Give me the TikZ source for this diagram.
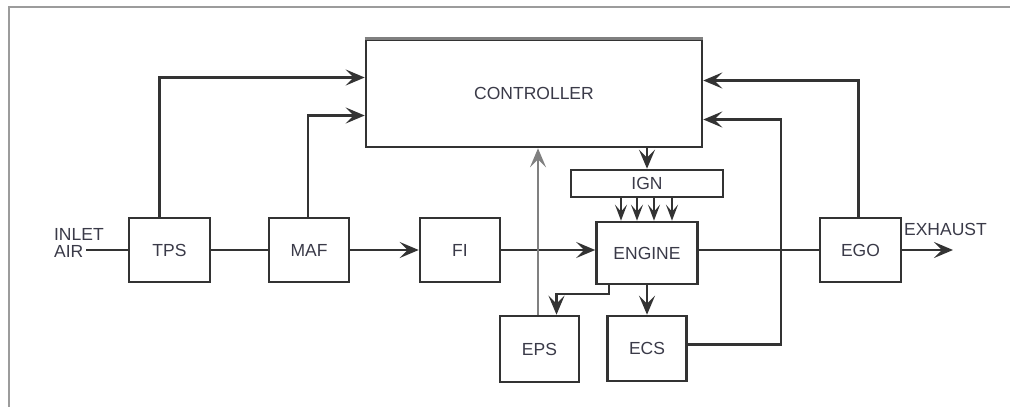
\documentclass[tikz,border=0pt]{standalone}
\usepackage{fontspec}
\setmainfont{Liberation Sans}
\usetikzlibrary{arrows.meta}
\definecolor{linegray}{HTML}{333333}
\definecolor{framegray}{HTML}{9C9C9C}
\definecolor{textgray}{HTML}{3A3A48}
\tikzset{>={Stealth[length=19pt,width=16pt,inset=8pt]}}
\tikzset{blk/.style={draw=linegray, line width=2.6pt, inner sep=0pt, text=textgray, font=\fontsize{17.5}{17.5}\selectfont}}
\tikzset{lbl/.style={inner sep=0pt, text=textgray, font=\fontsize{17.5}{17.5}\selectfont}}

\begin{document}
\begin{tikzpicture}[x=1pt, y=-1pt, linegray, line width=2.2pt]
	\useasboundingbox (0,0) rectangle (1010,407);
	\draw[framegray, line width=2pt] (1010,7) -- (9,7) -- (9,407);
	\node[blk, minimum width=336, minimum height=107] (ctrl) at (534,93.5) {CONTROLLER};
	\draw[gray, line width=3.5pt] (ctrl.north west) -- (ctrl.north east);
	\node[blk, minimum width=152, minimum height=27] (ign) at (647,183.5) {IGN};
	\node[blk, minimum width=81, minimum height=64] (tps) at (169.5,250) {TPS};
	\node[blk, minimum width=80, minimum height=64] (maf) at (309,250) {MAF};
	\node[blk, minimum width=80, minimum height=64] (fi) at (460,250) {FI};
	\node[blk, minimum width=101, minimum height=62] (engine) at (647,253) {ENGINE};
	\node[blk, minimum width=81, minimum height=64] (ego) at (860.5,250) {EGO};
	\node[blk, minimum width=79, minimum height=66] (eps) at (539.5,349) {EPS};
	\node[blk, minimum width=79, minimum height=65] (ecs) at (647,348.5) {ECS};
	\node[lbl, align=left, anchor=north west] (air) at (53,227) {INLET\\AIR};
	\node[lbl, anchor=west] (exhaust) at (903,229) {EXHAUST};
	\coordinate (airend) at (86,250);
	\coordinate (exit) at (953,250);
	\draw (airend) -- (tps.west);
	\draw (tps.east) -- (maf.west);
	\draw[->] (maf.east) -- (fi.west);
	\draw[->] (fi.east) -- (fi.east -| engine.west);
	\draw (ego.west -| engine.east) -- (ego.west);
	\draw[->] (ego.east) -- (exit);
	\draw[->] ([xshift=-10pt]tps.north) |- ([yshift=16pt]ctrl.west);
	\draw[->] ([xshift=-1pt]maf.north) |- ([yshift=-22pt]ctrl.west);
	\draw[->] ([xshift=-2pt]ego.north) |- ([yshift=13pt]ctrl.east);
	\draw[->] ([yshift=4pt]ecs.east) -- ++(93,0) |- ([yshift=-26pt]ctrl.east);
	\draw[->, gray, line width=1.8pt] ([xshift=-1.5pt]eps.north) -- ([xshift=4pt]ctrl.south);
	\draw[->] (ctrl.south -| ign.north) -- (ign.north);
	\foreach \dx in {-26,-10,7,25}
		\draw[->, >={Stealth[length=16pt,width=12pt,inset=7pt]}] ([xshift=\dx pt]ign.south) -- ([xshift=\dx pt]engine.north);
	\draw[->] ([xshift=-38pt]engine.south) -- ++(0,9) -| ([xshift=17pt]eps.north);
	\draw[->] (engine.south) -- (ecs.north);
\end{tikzpicture}
\end{document}
